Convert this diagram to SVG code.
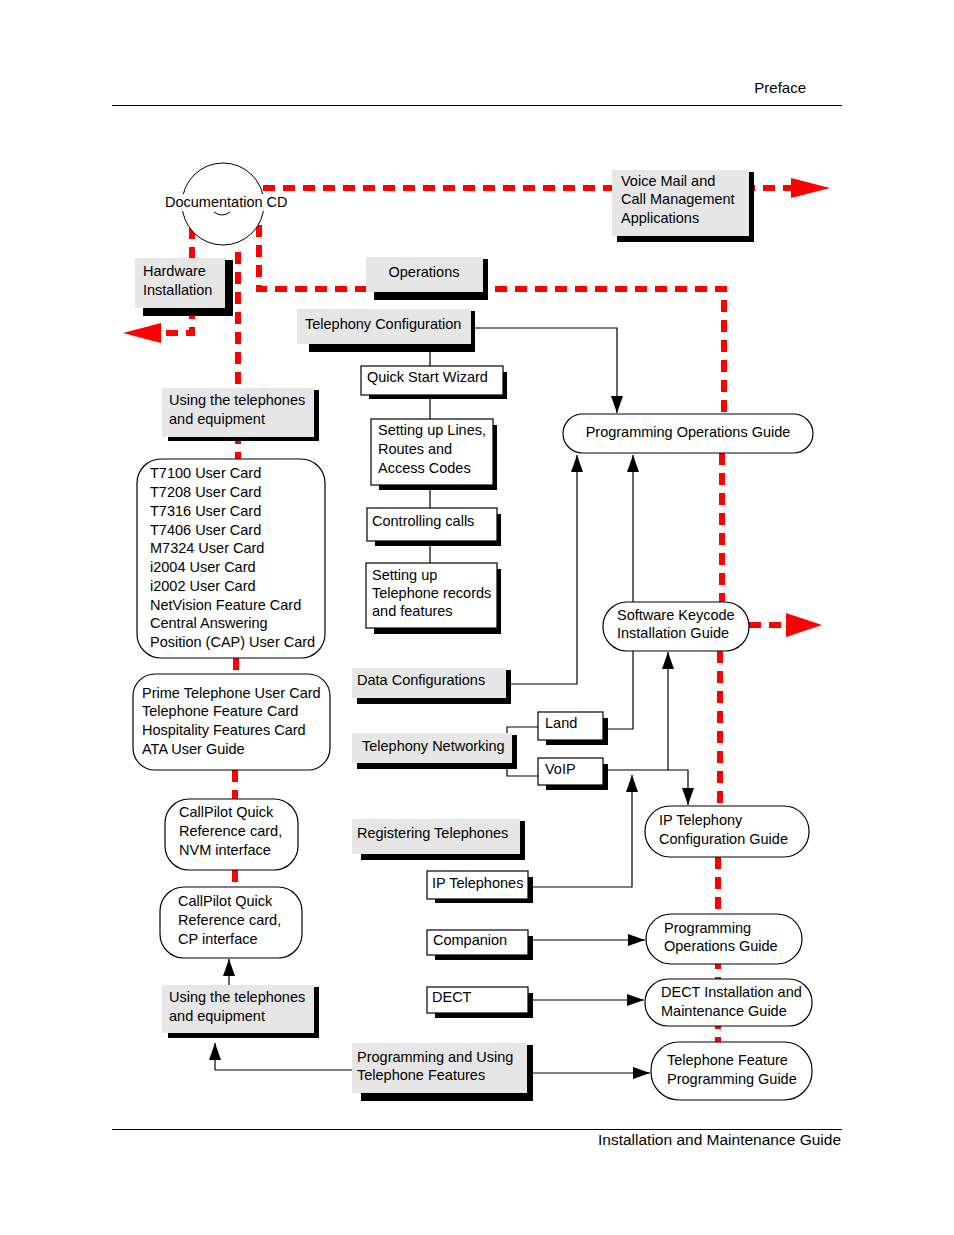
<svg xmlns="http://www.w3.org/2000/svg" width="954" height="1235" viewBox="0 0 954 1235">
<defs>
<style>
text{font-family:"Liberation Sans",Arial,sans-serif;font-size:14.5px;fill:#000}
.hdr{font-size:15px}
.ftr{font-size:15.5px}
.red{stroke:#ff0000;stroke-width:6;fill:none;stroke-dasharray:12 8}
.redh{fill:#ff0000;stroke:none}
.ln{stroke:#000;stroke-width:1.2;fill:none}
.arr{marker-end:url(#ah)}
.gray{fill:#e6e6e6;stroke:none}
.sh{fill:#000;stroke:none}
.wb{fill:#fff;stroke:#000;stroke-width:1.2}
.pill{fill:#fff;stroke:#000;stroke-width:1.2}
.rule{stroke:#000;stroke-width:1}
</style>
<marker id="ah" markerUnits="userSpaceOnUse" markerWidth="17" markerHeight="12" refX="17" refY="6" orient="auto">
<path d="M0,0 L17,6 L0,12 z" fill="#000"/>
</marker>
</defs>
<rect x="0" y="0" width="954" height="1235" fill="#fff"/>

<g id="page">
<text class="hdr" x="806" y="93" text-anchor="end">Preface</text>
<line class="rule" x1="112" y1="105.5" x2="842" y2="105.5"/>
<line class="rule" x1="112" y1="1129.5" x2="842" y2="1129.5"/>
<text class="ftr" x="841" y="1145" text-anchor="end">Installation and Maintenance Guide</text>
</g>

<g id="connectors">
<path class="red" d="M263,188 H792"/>
<polygon class="redh" points="791,178 830,188 791,198"/>
<path class="red" d="M192,227 V333 H160"/>
<polygon class="redh" points="161,323 123,333 161,343"/>
<path class="red" d="M238,252 V460"/>
<path class="red" d="M236,658 V675"/>
<path class="red" d="M235,770 V800"/>
<path class="red" d="M235,870 V888"/>
<path class="red" d="M259,225 V289 H724 V414"/>
<path class="red" d="M722,453 V602"/>
<path class="red" d="M720,651 V806"/>
<path class="red" d="M718,857 V1042"/>
<path class="red" d="M749,625 H787"/>
<polygon class="redh" points="786,613 822,625 786,637"/>

<path class="ln arr" d="M475,328 H617 V413"/>
<path class="ln" d="M430,352 V563"/>
<path class="ln arr" d="M511,684 H577 V455"/>
<path class="ln arr" d="M608,729 H633 V455"/>
<path class="ln arr" d="M608,770 H668 V652"/>
<path class="ln arr" d="M668,770 H688 V805"/>
<path class="ln" d="M538,727 H507 V776 H538"/>
<path class="ln arr" d="M533,887 H632 V775"/>
<path class="ln arr" d="M533,940 H645"/>
<path class="ln arr" d="M533,1000 H644"/>
<path class="ln arr" d="M533,1073 H650"/>
<path class="ln arr" d="M352,1070 H215 V1043"/>
<path class="ln arr" d="M229,985 V959"/>
</g>

<g id="doc-cd">
<circle cx="223" cy="204" r="41" fill="#fff" stroke="#000" stroke-width="1"/>
<rect x="164" y="194" width="126" height="17" fill="#fff"/>
<path d="M214,212 Q222,218 230,212" fill="none" stroke="#000" stroke-width="1"/>
<text x="165" y="207">Documentation CD</text>
</g>

<g id="voice-mail">
<rect class="sh" x="617" y="172" width="137" height="70"/>
<rect class="gray" x="612" y="170" width="137" height="66"/>
<text x="621" y="186">Voice Mail and</text>
<text x="621" y="204">Call Management</text>
<text x="621" y="223">Applications</text>
</g>

<g id="hardware">
<rect class="sh" x="143" y="260" width="90" height="56"/>
<rect class="gray" x="135" y="258" width="90" height="50"/>
<text x="143" y="276">Hardware</text>
<text x="143" y="295">Installation</text>
</g>

<g id="operations">
<rect class="sh" x="374" y="259" width="114" height="41"/>
<rect class="gray" x="366" y="257" width="117" height="35"/>
<text x="424" y="277" text-anchor="middle">Operations</text>
</g>

<g id="tel-config">
<rect class="sh" x="309" y="311" width="166" height="41"/>
<rect class="gray" x="297" y="309" width="174" height="35"/>
<text x="305" y="329">Telephony Configuration</text>
</g>

<g id="quick-start">
<rect class="sh" x="369" y="372" width="138" height="27"/>
<rect class="wb" x="361" y="366" width="142" height="29"/>
<text x="367" y="382">Quick Start Wizard</text>
</g>

<g id="lines-routes">
<rect class="sh" x="379" y="425" width="118" height="65"/>
<rect class="wb" x="371" y="419" width="122" height="66"/>
<text x="378" y="435">Setting up Lines,</text>
<text x="378" y="454">Routes and</text>
<text x="378" y="473">Access Codes</text>
</g>

<g id="controlling">
<rect class="sh" x="375" y="514" width="126" height="32"/>
<rect class="wb" x="367" y="508" width="130" height="33"/>
<text x="372" y="526">Controlling calls</text>
</g>

<g id="tel-records">
<rect class="sh" x="374" y="569" width="127" height="65"/>
<rect class="wb" x="366" y="563" width="131" height="65"/>
<text x="372" y="580">Setting up</text>
<text x="372" y="598">Telephone records</text>
<text x="372" y="616">and features</text>
</g>

<g id="prog-ops-1">
<rect class="pill" x="563" y="414" width="250" height="39" rx="19.5"/>
<text x="688" y="437" text-anchor="middle">Programming Operations Guide</text>
</g>

<g id="software-keycode">
<rect class="pill" x="603" y="602" width="146" height="49" rx="24"/>
<text x="617" y="620">Software Keycode</text>
<text x="617" y="638">Installation Guide</text>
</g>

<g id="using-1">
<rect class="sh" x="168" y="390" width="151" height="51"/>
<rect class="gray" x="162" y="388" width="152" height="49"/>
<text x="169" y="405">Using the telephones</text>
<text x="169" y="424">and equipment</text>
</g>

<g id="user-cards">
<rect class="pill" x="137" y="459" width="188" height="199" rx="24"/>
<text x="150" y="478">T7100 User Card</text>
<text x="150" y="497">T7208 User Card</text>
<text x="150" y="516">T7316 User Card</text>
<text x="150" y="535">T7406 User Card</text>
<text x="150" y="553">M7324 User Card</text>
<text x="150" y="572">i2004 User Card</text>
<text x="150" y="591">i2002 User Card</text>
<text x="150" y="610">NetVision Feature Card</text>
<text x="150" y="628">Central Answering</text>
<text x="150" y="647">Position (CAP) User Card</text>
</g>

<g id="prime-cards">
<rect class="pill" x="133" y="674" width="197" height="96" rx="22"/>
<text x="142" y="698">Prime Telephone User Card</text>
<text x="142" y="716">Telephone Feature Card</text>
<text x="142" y="735">Hospitality Features Card</text>
<text x="142" y="754">ATA User Guide</text>
</g>

<g id="callpilot-nvm">
<rect class="pill" x="165" y="799" width="133" height="71" rx="24"/>
<text x="179" y="817">CallPilot Quick</text>
<text x="179" y="836">Reference card,</text>
<text x="179" y="855">NVM interface</text>
</g>

<g id="callpilot-cp">
<rect class="pill" x="160" y="887" width="142" height="71" rx="24"/>
<text x="178" y="906">CallPilot Quick</text>
<text x="178" y="925">Reference card,</text>
<text x="178" y="944">CP interface</text>
</g>

<g id="using-2">
<rect class="sh" x="168" y="987" width="151" height="51"/>
<rect class="gray" x="162" y="985" width="152" height="48"/>
<text x="169" y="1002">Using the telephones</text>
<text x="169" y="1021">and equipment</text>
</g>

<g id="data-config">
<rect class="sh" x="357" y="670" width="154" height="34"/>
<rect class="gray" x="352" y="668" width="154" height="30"/>
<text x="357" y="685">Data Configurations</text>
</g>

<g id="tel-networking">
<rect class="sh" x="357" y="735" width="160" height="34"/>
<rect class="gray" x="352" y="733" width="160" height="30"/>
<text x="362" y="751">Telephony Networking</text>
</g>

<g id="land">
<rect class="sh" x="546" y="718" width="62" height="27"/>
<rect class="wb" x="538" y="712" width="65" height="28"/>
<text x="545" y="728">Land</text>
</g>

<g id="voip">
<rect class="sh" x="546" y="764" width="62" height="26"/>
<rect class="wb" x="538" y="758" width="65" height="27"/>
<text x="545" y="774">VoIP</text>
</g>

<g id="registering">
<rect class="sh" x="361" y="821" width="164" height="39"/>
<rect class="gray" x="352" y="819" width="168" height="35"/>
<text x="357" y="838">Registering Telephones</text>
</g>

<g id="ip-telephones">
<rect class="sh" x="435" y="877" width="98" height="26"/>
<rect class="wb" x="427" y="871" width="101" height="28"/>
<text x="432" y="888">IP Telephones</text>
</g>

<g id="companion">
<rect class="sh" x="435" y="936" width="98" height="24"/>
<rect class="wb" x="427" y="930" width="101" height="25"/>
<text x="433" y="945">Companion</text>
</g>

<g id="dect">
<rect class="sh" x="435" y="993" width="98" height="25"/>
<rect class="wb" x="427" y="987" width="101" height="26"/>
<text x="432" y="1002">DECT</text>
</g>

<g id="prog-using">
<rect class="sh" x="361" y="1045" width="172" height="56"/>
<rect class="gray" x="352" y="1043" width="175" height="50"/>
<text x="357" y="1062">Programming and Using</text>
<text x="357" y="1080">Telephone Features</text>
</g>

<g id="ip-tel-guide">
<rect class="pill" x="645" y="806" width="164" height="51" rx="25"/>
<text x="659" y="825">IP Telephony</text>
<text x="659" y="844">Configuration Guide</text>
</g>

<g id="prog-ops-2">
<rect class="pill" x="646" y="914" width="156" height="50" rx="25"/>
<text x="664" y="933">Programming</text>
<text x="664" y="951">Operations Guide</text>
</g>

<g id="dect-guide">
<rect class="pill" x="645" y="979" width="167" height="47" rx="23"/>
<text x="661" y="997">DECT Installation and</text>
<text x="661" y="1016">Maintenance Guide</text>
</g>

<g id="tel-feature-guide">
<rect class="pill" x="651" y="1042" width="161" height="58" rx="28"/>
<text x="667" y="1065">Telephone Feature</text>
<text x="667" y="1084">Programming Guide</text>
</g>
</svg>
